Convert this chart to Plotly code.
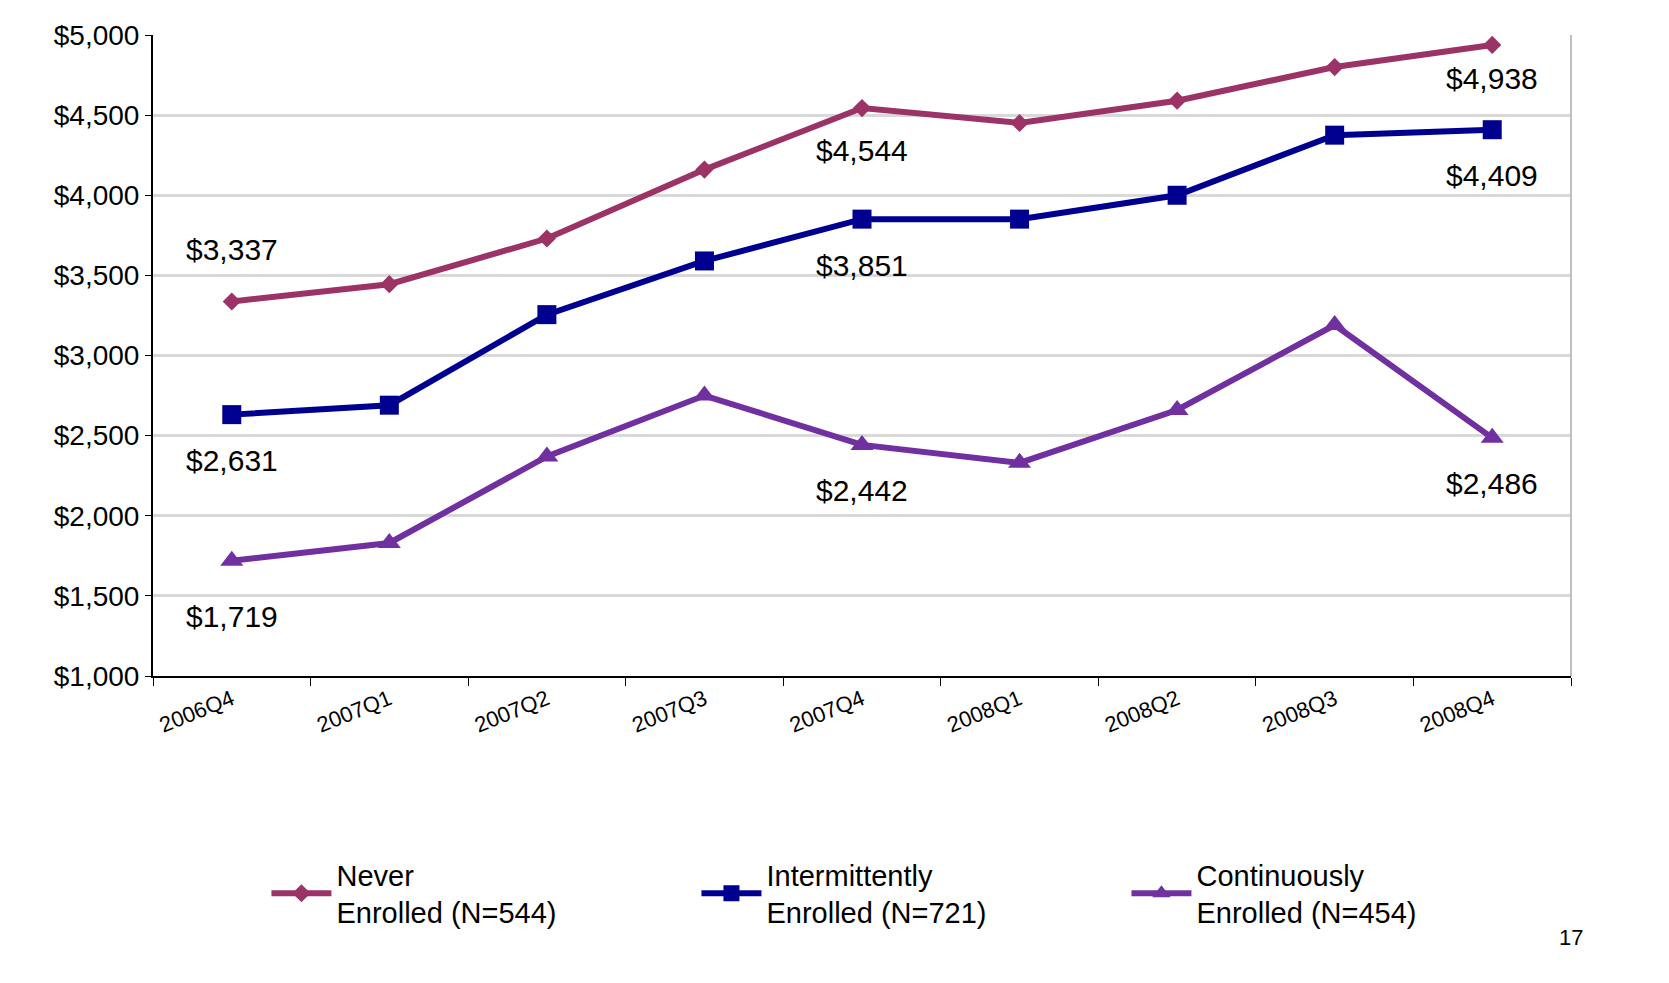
import plotly.graph_objects as go

quarters = ['2006Q4', '2007Q1', '2007Q2', '2007Q3', '2007Q4',
            '2008Q1', '2008Q2', '2008Q3', '2008Q4']
never = [3337, 3445, 3730, 4160, 4544, 4451, 4590, 4800, 4938]
intermittent = [2631, 2690, 3255, 3590, 3851, 3851, 4000, 4375, 4409]
continuous = [1719, 1830, 2370, 2750, 2442, 2330, 2660, 3190, 2486]

FONT = 'Liberation Sans'

series = [
    ('Never<br>Enrolled (N=544)', never, '#9B3366', 'diamond', 14),
    ('Intermittently<br>Enrolled (N=721)', intermittent, '#000090', 'square', 19),
    ('Continuously<br>Enrolled (N=454)', continuous, '#7030A0', 'triangle-up', 20),
]

fig = go.Figure()
for name, vals, col, sym, sz in series:
    fig.add_trace(go.Scatter(
        x=quarters, y=vals, name=name, mode='lines+markers',
        line=dict(color=col, width=6),
        marker=dict(symbol=sym, size=sz, color=col),
    ))

# data labels (index, series values, offset in px)
labels = [
    (0, never, 52), (4, never, -42), (8, never, -34),
    (0, intermittent, -46), (4, intermittent, -46), (8, intermittent, -46),
    (0, continuous, -56), (4, continuous, -46), (8, continuous, -46),
]
for i, vals, dy in labels:
    fig.add_annotation(x=quarters[i], y=vals[i], text='${:,}'.format(vals[i]),
                       showarrow=False, yshift=dy,
                       font=dict(family=FONT, size=30, color='black'))

fig.add_annotation(x=1.0, y=-0.43, xref='paper', yref='paper', text='17',
                   showarrow=False, xanchor='center',
                   font=dict(family=FONT, size=22, color='black'))

fig.update_layout(
    width=1669, height=983,
    margin=dict(l=145, r=106, t=20, b=315),
    plot_bgcolor='white', paper_bgcolor='white',
    font=dict(family=FONT, color='black'),
    legend=dict(orientation='h', x=0.08, y=-0.27, xanchor='left', yanchor='top',
                font=dict(family=FONT, size=29), entrywidth=355,
                itemwidth=60, tracegroupgap=0),
    xaxis=dict(type='category', range=[-0.5, 8.5], tickson='boundaries',
               ticks='outside', ticklen=8, tickcolor='black', tickangle=-22,
               showline=True, linecolor='black', linewidth=2,
               showgrid=False, tickfont=dict(family=FONT, size=22)),
    yaxis=dict(range=[1000, 5000], dtick=500, tickprefix='$', tickformat=',',
               showline=True, linecolor='black', linewidth=2,
               ticks='outside', ticklen=6, tickcolor='black',
               gridcolor='#D9D9D9', gridwidth=3,
               tickfont=dict(family=FONT, size=28)),
)
fig.add_shape(type='line', xref='paper', yref='paper', x0=1, x1=1, y0=0, y1=1,
              line=dict(color='#BFBFBF', width=2))

fig.write_html('out.html')
